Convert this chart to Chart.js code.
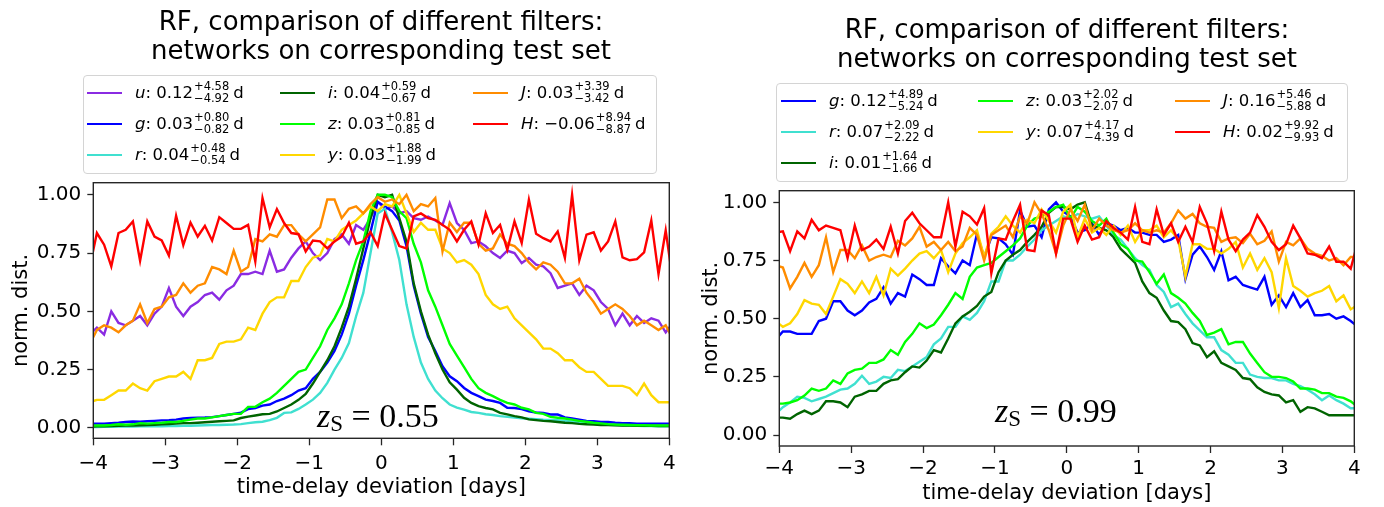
<!DOCTYPE html>
<html>
<head>
<meta charset="utf-8">
<script src="https://cdn.jsdelivr.net/npm/chart.js@4.4.0/dist/chart.umd.min.js"></script>
<style>
body { margin:0; background:#fff; width:1384px; height:507px; overflow:hidden; position:relative; font-family:"DejaVu Sans", sans-serif; color:#000; }
canvas { position:absolute; top:0; }
.title { position:absolute; width:640px; font-size:26px; line-height:28.5px; text-align:center; white-space:nowrap; }
.legend { position:absolute; border:1px solid #d4d4d4; border-radius:4px; box-sizing:border-box; }
.item { position:absolute; height:30px; display:flex; align-items:center; font-size:16.5px; white-space:nowrap; }
.swatch { display:inline-block; width:35px; height:2.6px; margin-right:13px; }
.ss { display:inline-flex; flex-direction:column; font-size:11.5px; line-height:11.7px; vertical-align:7.7px; margin:0 4px 0 1px; }
.zs { position:absolute; font-family:"Liberation Serif", serif; font-size:34px; line-height:34px; white-space:nowrap; }
.zs sub { font-size:23px; vertical-align:-0.18em; line-height:0; font-style:normal; }
</style>
</head>
<body>
<canvas id="leftChart" width="692" height="507" style="left:0"></canvas>
<canvas id="rightChart" width="692" height="507" style="left:692px"></canvas>

<div class="title" style="left:61px; top:7px">RF, comparison of different filters:<br>networks on corresponding test set</div>
<div class="title" style="left:747px; top:15px">RF, comparison of different filters:<br>networks on corresponding test set</div>

<div class="legend" style="left:83px; top:75px; width:574px; height:99px"></div>
<div class="legend" style="left:776px; top:83px; width:572px; height:99px"></div>
<div id="legendItems"></div>

<div class="zs" style="left:317px; top:399px"><i>z</i><sub>S</sub> = 0.55</div>
<div class="zs" style="left:995px; top:394px"><i>z</i><sub>S</sub> = 0.99</div>

<script>
// bin centres of the histograms (the ends lie just outside the visible range)
const BIN_CENTERS = [-4.05,-3.95,-3.85,-3.75,-3.65,-3.55,-3.45,-3.35,-3.25,-3.15,-3.05,
  -2.95,-2.85,-2.75,-2.65,-2.55,-2.45,-2.35,-2.25,-2.15,-2.05,
  -1.95,-1.85,-1.75,-1.65,-1.55,-1.45,-1.35,-1.25,-1.15,-1.05,
  -0.95,-0.85,-0.75,-0.65,-0.55,-0.45,-0.35,-0.25,-0.15,-0.05,
  0.05,0.15,0.25,0.35,0.45,0.55,0.65,0.75,0.85,0.95,
  1.05,1.15,1.25,1.35,1.45,1.55,1.65,1.75,1.85,1.95,
  2.05,2.15,2.25,2.35,2.45,2.55,2.65,2.75,2.85,2.95,
  3.05,3.15,3.25,3.35,3.45,3.55,3.65,3.75,3.85,3.95,4.05];

const X_TICKS = [-4, -3, -2, -1, 0, 1, 2, 3, 4];
const Y_TICKS = [0, 0.25, 0.5, 0.75, 1.0];

const BAND_COLORS = { u:'#8a2be2', g:'#0000ff', r:'#40e0d0', i:'#006400', z:'#00ff00', y:'#ffd700', J:'#ff8c00', H:'#ff0000' };

// ---- left panel, z_s = 0.55 ----
const leftBands = ['u', 'g', 'r', 'i', 'z', 'y', 'J', 'H'];
const leftMedian = ['0.12', '0.03', '0.04', '0.04', '0.03', '0.03', '0.03', '\u22120.06'];
const leftPlus = ['4.58', '0.80', '0.48', '0.59', '0.81', '1.88', '3.39', '8.94'];
const leftMinus = ['4.92', '0.82', '0.54', '0.67', '0.85', '1.99', '3.42', '8.87'];

const left_u = [0.40,
  0.43,0.40,0.50,0.45,0.44,0.46,0.48,0.44,0.49,0.52,
  0.60,0.52,0.48,0.52,0.54,0.57,0.58,0.55,0.59,0.61,
  0.66,0.66,0.67,0.66,0.76,0.67,0.68,0.73,0.77,0.80,
  0.75,0.72,0.75,0.81,0.83,0.79,0.87,0.85,0.90,0.97,
  0.94,0.95,0.92,0.93,0.90,0.893,0.907,0.89,0.871,0.964,
  0.879,0.85,0.793,0.80,0.779,0.75,0.729,0.76,0.75,0.707,
  0.729,0.70,0.693,0.664,0.60,0.61,0.62,0.57,0.61,0.59,
  0.54,0.51,0.44,0.49,0.44,0.48,0.45,0.47,0.46,0.41,
  0.45];
const left_g = [0.017,
  0.018,0.018,0.020,0.022,0.025,0.027,0.026,0.028,0.030,0.032,
  0.033,0.035,0.040,0.042,0.043,0.044,0.046,0.050,0.055,0.060,
  0.065,0.080,0.085,0.095,0.100,0.115,0.125,0.140,0.160,0.170,
  0.21,0.24,0.28,0.33,0.40,0.49,0.61,0.72,0.84,0.97,
  0.95,0.93,0.89,0.78,0.61,0.49,0.39,0.33,0.264,0.221,
  0.20,0.171,0.15,0.136,0.121,0.115,0.107,0.086,0.085,0.080,
  0.071,0.066,0.064,0.057,0.057,0.045,0.040,0.035,0.030,0.028,
  0.025,0.025,0.022,0.020,0.020,0.018,0.018,0.018,0.018,0.018,
  0.018];
const left_r = [0.003,
  0.003,0.004,0.004,0.005,0.005,0.005,0.006,0.006,0.007,0.007,
  0.008,0.008,0.009,0.009,0.010,0.011,0.012,0.012,0.013,0.014,
  0.016,0.020,0.024,0.026,0.033,0.043,0.064,0.066,0.081,0.100,
  0.121,0.150,0.193,0.25,0.30,0.364,0.479,0.579,0.75,0.92,
  0.94,0.84,0.72,0.53,0.39,0.28,0.21,0.16,0.127,0.100,
  0.087,0.078,0.068,0.064,0.058,0.055,0.050,0.047,0.044,0.041,
  0.039,0.037,0.035,0.034,0.033,0.030,0.027,0.024,0.020,0.017,
  0.015,0.013,0.012,0.011,0.010,0.009,0.008,0.008,0.007,0.007,
  0.007];
const left_i = [0.005,
  0.006,0.007,0.008,0.009,0.010,0.010,0.011,0.012,0.013,0.015,
  0.016,0.018,0.020,0.020,0.022,0.024,0.026,0.028,0.030,0.032,
  0.042,0.048,0.053,0.058,0.060,0.070,0.085,0.100,0.120,0.145,
  0.19,0.24,0.29,0.35,0.43,0.52,0.64,0.77,0.90,1.00,
  0.99,1.00,0.90,0.80,0.62,0.50,0.40,0.32,0.25,0.195,
  0.164,0.129,0.107,0.093,0.085,0.079,0.064,0.058,0.050,0.045,
  0.036,0.033,0.030,0.028,0.025,0.022,0.020,0.017,0.015,0.014,
  0.012,0.012,0.011,0.010,0.010,0.009,0.009,0.009,0.008,0.008,
  0.008];
const left_z = [0.010,
  0.010,0.010,0.012,0.015,0.013,0.015,0.020,0.018,0.020,0.022,
  0.025,0.025,0.030,0.035,0.040,0.040,0.045,0.050,0.055,0.060,
  0.060,0.090,0.090,0.110,0.125,0.150,0.180,0.210,0.240,0.250,
  0.30,0.35,0.42,0.47,0.53,0.62,0.72,0.80,0.93,1.00,
  1.00,0.99,0.93,0.90,0.79,0.71,0.59,0.52,0.44,0.36,
  0.31,0.26,0.21,0.17,0.15,0.136,0.12,0.107,0.10,0.086,
  0.079,0.064,0.060,0.047,0.043,0.040,0.035,0.030,0.026,0.022,
  0.019,0.016,0.014,0.013,0.012,0.011,0.011,0.010,0.010,0.010,
  0.010];
const left_y = [0.11,
  0.12,0.12,0.14,0.16,0.16,0.19,0.17,0.16,0.20,0.21,
  0.22,0.22,0.24,0.21,0.29,0.29,0.30,0.36,0.37,0.37,
  0.38,0.43,0.42,0.49,0.54,0.56,0.56,0.63,0.63,0.69,
  0.73,0.74,0.81,0.80,0.85,0.87,0.89,0.92,0.95,0.93,
  0.96,0.95,1.00,0.92,0.84,0.88,0.85,0.85,0.77,0.75,
  0.71,0.72,0.70,0.66,0.57,0.53,0.51,0.52,0.47,0.44,
  0.41,0.38,0.34,0.34,0.32,0.29,0.29,0.26,0.24,0.24,
  0.21,0.18,0.18,0.18,0.17,0.14,0.19,0.14,0.11,0.11,
  0.11];
const left_J = [0.36,
  0.42,0.44,0.43,0.41,0.44,0.46,0.53,0.45,0.51,0.52,
  0.56,0.57,0.62,0.58,0.61,0.62,0.69,0.68,0.66,0.76,
  0.67,0.69,0.81,0.80,0.83,0.82,0.87,0.87,0.83,0.80,
  0.83,0.86,0.98,0.98,0.90,0.94,0.95,0.92,0.96,0.99,
  0.97,0.98,0.96,1.00,0.93,0.96,0.95,0.986,0.757,0.88,
  0.84,0.88,0.88,0.79,0.76,0.77,0.83,0.79,0.78,0.75,
  0.71,0.68,0.71,0.70,0.67,0.62,0.62,0.64,0.58,0.54,
  0.49,0.51,0.53,0.51,0.48,0.44,0.46,0.44,0.42,0.44,
  0.38];
const left_H = [0.69,
  0.836,0.786,0.693,0.836,0.850,0.886,0.717,0.886,0.821,0.804,
  0.739,0.910,0.784,0.881,0.821,0.867,0.804,0.904,0.879,0.854,
  0.854,0.871,0.714,0.986,0.861,0.939,0.879,0.836,0.831,0.757,
  0.804,0.800,0.770,0.800,0.820,0.880,0.790,0.800,0.840,0.780,
  0.920,0.850,0.780,0.770,0.907,0.920,0.900,0.893,0.871,0.850,
  0.800,0.850,0.886,0.786,0.921,0.836,0.871,0.764,0.886,0.793,
  0.979,0.833,0.814,0.800,0.843,0.729,1.000,0.719,0.829,0.839,
  0.761,0.800,0.886,0.731,0.719,0.724,0.753,0.890,0.660,0.847,
  0.63];

// ---- right panel, z_s = 0.99 ----
const rightBands = ['g', 'r', 'i', 'z', 'y', 'J', 'H'];
const rightMedian = ['0.12', '0.07', '0.01', '0.03', '0.07', '0.16', '0.02'];
const rightPlus = ['4.89', '2.09', '1.64', '2.02', '4.17', '5.46', '9.92'];
const rightMinus = ['5.24', '2.22', '1.66', '2.07', '4.39', '5.88', '9.93'];

const right_g = [0.41,
  0.445,0.445,0.435,0.435,0.435,0.49,0.50,0.575,0.575,0.535,
  0.515,0.535,0.57,0.585,0.635,0.565,0.61,0.595,0.69,0.67,
  0.645,0.645,0.76,0.725,0.695,0.75,0.73,0.865,0.765,0.85,
  0.845,0.82,0.775,0.965,0.895,0.90,0.85,0.97,1.00,0.96,
  0.94,0.87,0.88,0.91,0.86,0.91,0.90,0.88,0.89,0.87,
  0.87,0.86,0.86,0.83,0.84,0.86,0.67,0.775,0.81,0.765,
  0.71,0.79,0.665,0.68,0.645,0.635,0.625,0.68,0.56,0.60,
  0.55,0.61,0.55,0.58,0.515,0.515,0.52,0.50,0.51,0.49,
  0.465];
const right_r = [0.09,
  0.12,0.14,0.165,0.16,0.145,0.155,0.165,0.18,0.195,0.20,
  0.22,0.255,0.22,0.23,0.25,0.245,0.28,0.275,0.295,0.315,
  0.335,0.39,0.415,0.465,0.465,0.51,0.495,0.525,0.575,0.66,
  0.66,0.75,0.75,0.775,0.81,0.84,0.88,0.90,0.92,0.94,
  0.93,0.95,0.94,0.93,0.94,0.90,0.86,0.84,0.80,0.76,
  0.73,0.71,0.645,0.615,0.55,0.565,0.52,0.48,0.45,0.42,
  0.42,0.365,0.345,0.31,0.31,0.26,0.25,0.245,0.245,0.235,
  0.235,0.22,0.21,0.195,0.175,0.15,0.17,0.15,0.135,0.115,
  0.115];
const right_i = [0.075,
  0.075,0.07,0.09,0.105,0.09,0.105,0.145,0.145,0.14,0.12,
  0.165,0.175,0.19,0.19,0.22,0.235,0.24,0.27,0.295,0.29,
  0.32,0.365,0.355,0.415,0.48,0.51,0.53,0.555,0.595,0.615,
  0.70,0.75,0.775,0.795,0.83,0.86,0.895,0.955,0.98,0.98,
  0.97,0.99,1.00,0.90,0.89,0.88,0.85,0.80,0.77,0.74,
  0.66,0.61,0.59,0.535,0.49,0.485,0.455,0.395,0.385,0.335,
  0.36,0.31,0.295,0.28,0.245,0.24,0.205,0.185,0.175,0.17,
  0.14,0.15,0.10,0.12,0.115,0.10,0.085,0.085,0.085,0.085,
  0.085];
const right_z = [0.135,
  0.135,0.14,0.15,0.17,0.20,0.19,0.20,0.235,0.22,0.265,
  0.28,0.285,0.31,0.31,0.325,0.365,0.345,0.40,0.435,0.48,
  0.46,0.475,0.515,0.56,0.61,0.585,0.68,0.72,0.73,0.74,
  0.765,0.79,0.815,0.845,0.90,0.93,0.94,0.96,0.98,0.99,
  0.93,0.98,0.96,0.92,0.90,0.93,0.87,0.82,0.80,0.75,
  0.745,0.70,0.65,0.69,0.61,0.59,0.565,0.525,0.49,0.43,
  0.44,0.455,0.39,0.40,0.40,0.35,0.31,0.27,0.25,0.25,
  0.245,0.23,0.20,0.20,0.195,0.18,0.18,0.165,0.16,0.145,
  0.12];
const right_y = [0.49,
  0.465,0.48,0.52,0.58,0.565,0.56,0.52,0.595,0.67,0.65,
  0.61,0.66,0.61,0.68,0.60,0.715,0.685,0.715,0.75,0.78,
  0.79,0.76,0.795,0.70,0.78,0.825,0.85,0.88,0.765,0.865,
  0.895,0.94,0.90,0.87,0.925,0.91,0.97,0.92,0.87,0.96,
  0.99,0.85,0.93,0.87,0.89,0.86,0.90,0.86,0.90,0.83,
  0.88,0.88,0.90,0.85,0.88,0.84,0.68,0.82,0.82,0.80,
  0.80,0.78,0.80,0.83,0.72,0.78,0.71,0.76,0.70,0.545,
  0.76,0.64,0.62,0.595,0.61,0.62,0.64,0.575,0.60,0.54,
  0.56];
const right_J = [0.73,
  0.72,0.63,0.68,0.74,0.68,0.73,0.85,0.70,0.795,0.795,
  0.76,0.815,0.75,0.765,0.775,0.765,0.835,0.815,0.845,0.895,
  0.81,0.83,0.795,0.83,0.79,0.81,0.89,0.86,0.75,0.86,
  0.88,0.90,0.85,0.94,0.91,1.00,0.95,0.88,0.78,0.90,
  0.97,0.92,0.99,0.88,0.93,0.90,0.88,0.87,0.88,0.91,
  0.88,0.87,0.88,0.87,0.91,0.965,0.93,0.95,0.91,0.895,
  0.89,0.83,0.845,0.85,0.825,0.865,0.82,0.835,0.875,0.745,
  0.83,0.815,0.845,0.80,0.78,0.77,0.75,0.76,0.73,0.765,
  0.765];
const right_H = [0.87,
  0.875,0.79,0.875,0.845,0.925,0.88,0.90,0.89,0.88,0.76,
  0.90,0.795,0.81,0.84,0.80,0.895,0.78,0.92,0.955,0.91,
  0.88,0.85,0.85,1.00,0.81,0.96,0.94,0.905,0.975,0.695,
  0.845,0.84,0.92,0.99,0.795,0.79,0.965,0.945,0.78,0.93,
  0.93,0.83,0.90,0.84,0.85,0.92,0.89,0.87,0.84,0.98,
  0.83,0.82,0.97,0.86,0.91,0.83,0.895,0.83,0.98,0.91,
  0.79,0.96,0.84,0.79,0.84,0.87,0.945,0.895,0.83,0.795,
  0.82,0.90,0.845,0.78,0.775,0.76,0.81,0.745,0.745,0.715,
  0.83];

// draws the full axes frame over the lines, like matplotlib spines
const frameBox = {
    id: 'frameBox',
    afterDatasetsDraw(chart) {
        const a = chart.chartArea;
        const ctx = chart.ctx;
        ctx.save();
        ctx.strokeStyle = '#262626';
        ctx.lineWidth = 1.4;
        ctx.strokeRect(a.left, a.top, a.right - a.left, a.bottom - a.top);
        ctx.restore();
    }
};

function minusSign(v) {
    return v < 0 ? '\u2212' + Math.abs(v) : String(v);
}

function BuildChart(canvasId, bands, series, g)
{
    const datasets = bands.map((b, k) => ({
        label: b,
        data: BIN_CENTERS.map((x, j) => ({ x: x, y: series[k][j] })),
        borderColor: BAND_COLORS[b],
        borderWidth: 2.4,
        pointRadius: 0,
        tension: 0,
        fill: false,
        clip: 0,
        order: bands.length - k
    }));

    const tickFont = { family: 'DejaVu Sans', size: 20 };
    const titleFont = { family: 'DejaVu Sans', size: 21 };

    return new Chart(canvasId, {
        type: 'line',
        data: { datasets: datasets },
        plugins: [frameBox],
        options: {
            responsive: false,
            animation: false,
            devicePixelRatio: 1,
            layout: { padding: { left: 0, right: g.padRight, top: g.padTop, bottom: 0 } },
            plugins: { legend: { display: false }, tooltip: { enabled: false }, title: { display: false } },
            scales: {
                x: {
                    type: 'linear',
                    min: -4, max: 4,
                    afterBuildTicks: (s) => { s.ticks = X_TICKS.map(v => ({ value: v })); },
                    afterFit: (s) => { s.height = g.xHeight; },
                    ticks: { font: tickFont, color: '#000', padding: g.xTickPad, maxRotation: 0, callback: (v) => minusSign(v) },
                    grid: { drawOnChartArea: false, drawTicks: true, tickLength: 7, tickWidth: 1.3, tickColor: '#262626' },
                    border: { display: false },
                    title: { display: true, text: 'time-delay deviation [days]', font: titleFont, color: '#000', padding: { top: 0, bottom: g.xTitlePad } }
                },
                y: {
                    min: g.yMin, max: g.yMax,
                    afterBuildTicks: (s) => { s.ticks = Y_TICKS.map(v => ({ value: v })); },
                    afterFit: (s) => { s.width = g.yWidth; },
                    ticks: { font: tickFont, color: '#000', padding: 6, callback: (v) => v.toFixed(2) },
                    grid: { drawOnChartArea: false, drawTicks: true, tickLength: 6, tickWidth: 1.3, tickColor: '#262626' },
                    border: { display: false },
                    title: { display: true, text: 'norm. dist.', font: titleFont, color: '#000', padding: { top: g.yTitlePad, bottom: 0 } }
                }
            }
        }
    });
}

BuildChart('leftChart', leftBands,
    [left_u, left_g, left_r, left_i, left_z, left_y, left_J, left_H],
    { padRight: 22.7, padTop: 182.7, xHeight: 68.7, yWidth: 93.3, yMin: -0.045, yMax: 1.052, xTickPad: 6, xTitlePad: 7, yTitlePad: 9 });

BuildChart('rightChart', rightBands,
    [right_g, right_r, right_i, right_z, right_y, right_J, right_H],
    { padRight: 29.7, padTop: 190.7, xHeight: 61, yWidth: 87.3, yMin: -0.047, yMax: 1.05, xTickPad: 4, xTitlePad: 1, yTitlePad: 7 });

// legend entries, filled column by column like matplotlib with ncol=3
function BuildLegend(bands, med, plus, minus, colX, rowY)
{
    const n = bands.length;
    const ncol = 3;
    const base = Math.floor(n / ncol);
    const extra = n % ncol;
    let html = '';
    let k = 0;
    for (let c = 0; c < ncol; c++) {
        const rows = base + (c < extra ? 1 : 0);
        for (let r = 0; r < rows; r++, k++) {
            html += '<div class="item" style="left:' + colX[c] + 'px; top:' + (rowY[r] - 15) + 'px">' +
                '<span class="swatch" style="background:' + BAND_COLORS[bands[k]] + '"></span>' +
                '<span><i>' + bands[k] + '</i>: ' + med[k] +
                '<span class="ss"><span>+' + plus[k] + '</span><span>\u2212' + minus[k] + '</span></span>d</span></div>';
        }
    }
    return html;
}

document.getElementById('legendItems').innerHTML =
    BuildLegend(leftBands, leftMedian, leftPlus, leftMinus, [87, 280, 473], [93, 124, 155]) +
    BuildLegend(rightBands, rightMedian, rightPlus, rightMinus, [781, 978, 1175], [101, 132, 163]);
</script>
</body>
</html>
